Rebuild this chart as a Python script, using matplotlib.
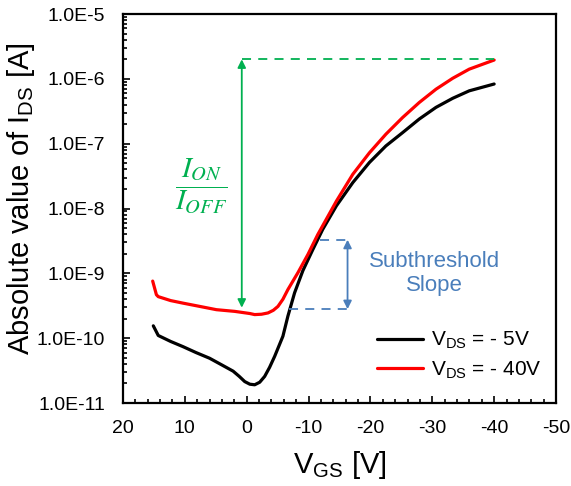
import numpy as np
import matplotlib
matplotlib.use("Agg")
import matplotlib.pyplot as plt
from matplotlib.ticker import FuncFormatter, LogLocator, MultipleLocator, NullFormatter

plt.rcParams['font.family'] = ['Liberation Sans', 'DejaVu Sans']
plt.rcParams['mathtext.fontset'] = 'custom'
plt.rcParams['mathtext.rm'] = 'Liberation Sans'
plt.rcParams['mathtext.it'] = 'Liberation Sans:italic'
plt.rcParams['axes.unicode_minus'] = False

# ---- data ----
vgs_5 = [15.1, 14.3, 12.3, 10.3, 8.2, 6.0, 4.1, 2.2, 1.2, 0.32, -0.5, -1.29, -2.1,
         -2.9, -3.7, -4.52, -5.85, -6.66, -7.74, -9.08, -10.7, -12.3, -14.5,
         -17.15, -19.84, -22.5, -25.2, -27.9, -30.6, -33.3, -35.97, -40.0]
ids_5 = [1.55e-10, 1.10e-10, 8.9e-11, 7.4e-11, 6.0e-11, 4.9e-11, 3.9e-11, 3.1e-11,
         2.57e-11, 2.14e-11, 1.95e-11, 1.91e-11, 2.09e-11, 2.57e-11, 3.55e-11,
         5.25e-11, 1.07e-10, 2.19e-10, 5.01e-10, 1.10e-9, 2.34e-9, 4.79e-9,
         1.10e-8, 2.51e-8, 5.13e-8, 9.23e-8, 1.48e-7, 2.40e-7, 3.63e-7, 5.01e-7,
         6.53e-7, 8.32e-7]

vgs_40 = [15.2, 14.6, 14.3, 12.3, 10.3, 7.6, 4.9, 1.94, -0.5, -1.29, -2.4, -3.44,
          -4.3, -5.05, -5.85, -6.66, -8.27, -9.89, -11.5, -14.5, -17.15, -19.84,
          -22.5, -25.2, -27.9, -30.6, -33.3, -35.97, -40.0]
ids_40 = [7.59e-10, 4.68e-10, 4.37e-10, 3.80e-10, 3.47e-10, 3.09e-10, 2.75e-10,
          2.59e-10, 2.40e-10, 2.31e-10, 2.34e-10, 2.45e-10, 2.69e-10, 3.09e-10,
          3.98e-10, 5.62e-10, 1.02e-9, 1.95e-9, 3.98e-9, 1.30e-8, 3.37e-8,
          7.24e-8, 1.40e-7, 2.53e-7, 4.32e-7, 6.92e-7, 1.02e-6, 1.41e-6, 1.95e-6]

labels = [r'V$_{\mathrm{DS}}$ = - 5V', r'V$_{\mathrm{DS}}$ = - 40V']
colors = ['#000000', '#FF0000']

# annotation anchors
ion_level, ioff_level, onoff_v = 2.0e-6, 2.95e-10, 0.8
ss_top, ss_bot, ss_v, ss_top_start, ss_bot_start = 3.3e-9, 2.8e-10, -16.3, -11.8, -6.9
green = '#00B050'
blue = '#4A7EBB'

fig = plt.figure(figsize=(5.71, 4.86), dpi=100)
ax = fig.add_axes([123/571, 1-403/486, (556-123)/571, (403-14)/486])

ax.plot(vgs_5, ids_5, color=colors[0], lw=2.3, label=labels[0],
        solid_capstyle='round', solid_joinstyle='round')
ax.plot(vgs_40, ids_40, color=colors[1], lw=2.3, label=labels[1],
        solid_capstyle='round', solid_joinstyle='round')

ax.set_yscale('log')
ax.set_ylim(1e-11, 1e-5)
ax.set_xlim(20, -50)

ax.yaxis.set_major_locator(LogLocator(base=10, numticks=20))
ax.yaxis.set_minor_locator(LogLocator(base=10, subs=np.arange(2, 10), numticks=100))
ax.yaxis.set_major_formatter(FuncFormatter(lambda v, p: "1.0E%d" % int(round(np.log10(v)))))
ax.yaxis.set_minor_formatter(NullFormatter())
ax.xaxis.set_major_locator(MultipleLocator(10))
ax.xaxis.set_minor_locator(MultipleLocator(2))
ax.xaxis.set_major_formatter(FuncFormatter(lambda v, p: "%d" % int(round(v))))

ax.tick_params(which='both', direction='in', top=False, right=False, width=1.2, labelsize=14)
ax.tick_params(which='major', length=5)
ax.tick_params(which='minor', length=3)
ax.tick_params(axis='y', pad=13)
ax.tick_params(axis='x', pad=12)
for s in ax.spines.values():
    s.set_linewidth(1.6)

ax.set_ylabel(r'Absolute value of I$_{\mathrm{DS}}$ [A]', fontsize=21, labelpad=0)
ax.yaxis.label.set_y(0.526)
ax.set_xlabel(r'V$_{\mathrm{GS}}$ [V]', fontsize=21, labelpad=9)

# ON/OFF ratio annotation
ax.plot([onoff_v, -40], [ion_level, ion_level], color=green, lw=1.3, dashes=(5, 4))
ax.annotate('', xy=(onoff_v, ioff_level), xytext=(onoff_v, ion_level),
            arrowprops=dict(arrowstyle='<|-|>', color=green, lw=1.3,
                            mutation_scale=12, shrinkA=0, shrinkB=0))
ax.text(7.4, 2.3e-8, r'$\dfrac{\mathit{I}_{\mathit{ON}}}{\mathit{I}_{\mathit{OFF}}}$',
        color=green, fontsize=21, ha='center', va='center', math_fontfamily='stix')

# Subthreshold slope annotation
ax.plot([ss_top_start, ss_v], [ss_top, ss_top], color=blue, lw=1.3, dashes=(5, 4))
ax.plot([ss_bot_start, ss_v], [ss_bot, ss_bot], color=blue, lw=1.3, dashes=(5, 4))
ax.annotate('', xy=(ss_v, ss_bot), xytext=(ss_v, ss_top),
            arrowprops=dict(arrowstyle='<|-|>', color=blue, lw=1.3,
                            mutation_scale=12, shrinkA=0, shrinkB=0))
ax.text(-30.3, 1.0e-9, 'Subthreshold\nSlope', color=blue, fontsize=16,
        ha='center', va='center', linespacing=1.15)

leg = ax.legend(loc='upper left', bbox_to_anchor=(377/571, 1-330/486),
                bbox_transform=fig.transFigure, frameon=False, fontsize=15,
                handlelength=2.2, handletextpad=0.4, borderpad=0, borderaxespad=0,
                labelspacing=0.4)

fig.savefig('out.png', dpi=100)
